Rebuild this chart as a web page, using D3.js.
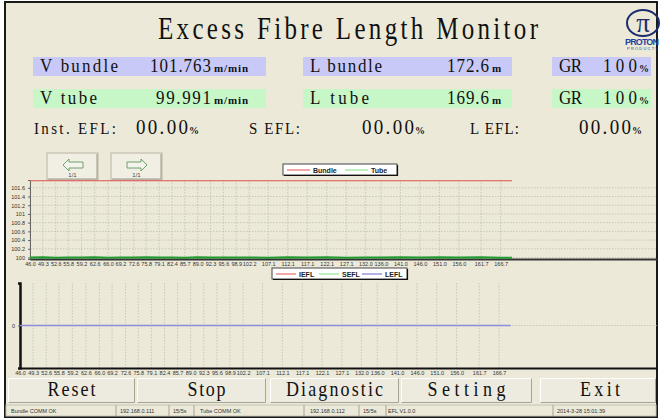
<!DOCTYPE html>
<html><head><meta charset="utf-8">
<script src="https://cdn.jsdelivr.net/npm/d3@7"></script>
<style>html,body{margin:0;padding:0;background:#fff;overflow:hidden}svg{display:block}</style>
</head><body>
<script>
// ---------- data ----------
const titleText = "Excess Fibre Length Monitor";
const speedLabels = ["V bundle", "V tube"];
const speedValues = ["101.763", "99.991"];
const lengthLabels = ["L bundle", "L tube"];
const lengthValues = ["172.6", "169.6"];
const grValues = ["100", "100"];
const eflLabels = ["Inst. EFL:", "S EFL:", "L EFL:"];
const eflValues = ["00.00", "00.00", "00.00"];
const buttonLabels = ["Reset", "Stop", "Diagnostic", "Setting", "Exit"];
const statusTexts = ["Bundle COMM OK", "192.168.0.111", "15/5s", "Tube COMM OK", "192.168.0.112", "15/5s", "EFL V1.0.0", "2014-3-28 15:01:39"];

const xTickValues = [46.0, 49.3, 52.6, 55.8, 59.2, 62.6, 66.0, 69.2, 72.6, 75.8, 79.1, 82.4, 85.7, 89.0, 92.3, 95.6, 98.9, 102.2, 107.1, 112.1, 117.1, 122.1, 127.1, 132.0, 136.0, 141.0, 146.0, 151.0, 156.0, 161.7, 166.7];
const speedTicks = [100, 100.2, 100.4, 100.6, 100.8, 101, 101.2, 101.4, 101.6];
const eflTicks = [0];

const lengthSamples = [46.0, 49.3, 52.6, 55.8, 59.2, 62.6, 66.0, 69.2, 72.6, 75.8, 79.1, 82.4, 85.7, 89.0, 92.3, 95.6, 98.9, 102.2, 107.1, 112.1, 117.1, 122.1, 127.1, 132.0, 136.0, 141.0, 146.0, 151.0, 156.0, 161.7, 166.7, 169.6];
const bundleSpeed = [101.763, 101.763, 101.763, 101.763, 101.763, 101.763, 101.763, 101.763, 101.763, 101.763, 101.763, 101.763, 101.763, 101.763, 101.763, 101.763, 101.763, 101.763, 101.763, 101.763, 101.763, 101.763, 101.763, 101.763, 101.763, 101.763, 101.763, 101.763, 101.763, 101.763, 101.763, 101.763];
const tubeSpeed = [99.998, 100.004, 99.996, 100.002, 99.999, 100.006, 99.995, 100.001, 99.997, 100.003, 99.998, 100.000, 99.996, 100.004, 99.999, 100.002, 99.997, 100.001, 99.995, 100.003, 99.998, 100.005, 99.996, 100.002, 99.999, 100.004, 99.997, 100.006, 99.998, 100.003, 99.996, 99.991];
const instEFL = [0, 0, 0, 0, 0, 0, 0, 0, 0, 0, 0, 0, 0, 0, 0, 0, 0, 0, 0, 0, 0, 0, 0, 0, 0, 0, 0, 0, 0, 0, 0, 0];
const shortEFL = [0, 0, 0, 0, 0, 0, 0, 0, 0, 0, 0, 0, 0, 0, 0, 0, 0, 0, 0, 0, 0, 0, 0, 0, 0, 0, 0, 0, 0, 0, 0, 0];
const longEFL = [0, 0, 0, 0, 0, 0, 0, 0, 0, 0, 0, 0, 0, 0, 0, 0, 0, 0, 0, 0, 0, 0, 0, 0, 0, 0, 0, 0, 0, 0, 0, 0];

// ---------- drawing ----------
const W = 662, H = 419;
const BG = "#ECE9D8";
const SERIF = "'Liberation Serif', 'DejaVu Serif', serif";
const SANS = "'Liberation Sans', Arial, sans-serif";

const svg = d3.select("body").append("svg").attr("width", W).attr("height", H);
svg.append("rect").attr("width", W).attr("height", H).attr("fill", "#fff");
svg.append("rect").attr("x", 5).attr("y", 2).attr("width", 652).attr("height", 415)
  .attr("fill", BG).attr("stroke", "#1a1a1a").attr("stroke-width", 2);

function tx(g, x, y, s, o) {
  o = o || {};
  const t = g.append("text")
    .attr("transform", `translate(${x},${y}) scale(1,${o.sy || 1})`)
    .attr("font-family", o.ff || SERIF).attr("font-size", o.fs || 16)
    .attr("fill", o.fill || "#111").attr("text-anchor", o.anchor || "start")
    .text(s);
  if (o.fw) t.attr("font-weight", o.fw);
  if (o.ls) t.attr("letter-spacing", o.ls);
  if (o.len) t.attr("textLength", o.len).attr("lengthAdjust", "spacing");
  return t;
}

// title
tx(svg, 158, 39, titleText, {fs: 25, sy: 1.25, len: 380});

// logo
const logo = svg.append("g");
logo.append("ellipse").attr("cx", 643).attr("cy", 23).attr("rx", 16).attr("ry", 13)
  .attr("fill", "none").attr("stroke", "#1b2d6b").attr("stroke-width", 2);
tx(logo, 643, 32, "π", {fs: 27, fill: "#1b2d6b", anchor: "middle"});
tx(logo, 625, 45, "PROTON", {ff: SANS, fs: 9, fw: "bold", fill: "#1f3f9f", len: 34});
tx(logo, 627, 50, "PRODUCTS", {ff: SANS, fs: 4, fill: "#1f3f9f", len: 31});

// reading rows
const rowY = [57, 89];
const rowFill = ["#C9C9F7", "#C7F7C7"];
const labLen = [[78, 57], [72, 59]];
const valLen = [[61, 55], [42, 42]];
rowY.forEach((y, i) => {
  const g = svg.append("g");
  g.append("rect").attr("x", 33).attr("y", y).attr("width", 233).attr("height", 19).attr("fill", rowFill[i]);
  g.append("rect").attr("x", 303).attr("y", y).attr("width", 209).attr("height", 19).attr("fill", rowFill[i]);
  g.append("rect").attr("x", 552).attr("y", y).attr("width", 99).attr("height", 19).attr("fill", rowFill[i]);
  const b = y + 15;
  tx(g, 40, b, speedLabels[i], {fs: 17, sy: 1.15, len: labLen[0][i]});
  tx(g, 211, b, speedValues[i], {fs: 17, sy: 1.15, anchor: "end", len: valLen[0][i]});
  tx(g, 214, b, "m/min", {fs: 11, fw: "bold", len: 34});
  tx(g, 310, b, lengthLabels[i], {fs: 17, sy: 1.15, len: labLen[1][i]});
  tx(g, 489, b, lengthValues[i], {fs: 17, sy: 1.15, anchor: "end", len: valLen[1][i]});
  tx(g, 492, b, "m", {fs: 11, fw: "bold"});
  tx(g, 559, b, "GR", {fs: 17, sy: 1.15, len: 23});
  tx(g, 637, b, grValues[i], {fs: 17, sy: 1.15, anchor: "end", len: 34});
  tx(g, 639, b, "%", {fs: 10, fw: "bold"});
});

// EFL row
const eflLabX = [34, 249, 470];
const eflLabLen = [82, 51, 49];
const eflValX = [188, 414, 631];
eflLabels.forEach((l, i) => {
  tx(svg, eflLabX[i], 134, l, {fs: 15, sy: 1.15, len: eflLabLen[i]});
  tx(svg, eflValX[i], 134, eflValues[i], {fs: 19, sy: 1.15, anchor: "end", len: 52});
  tx(svg, eflValX[i] + 1, 134, "%", {fs: 10, fw: "bold"});
});

// arrow buttons
function smallButton(x, dir) {
  const g = svg.append("g").attr("transform", `translate(${x},153)`);
  g.append("rect").attr("width", 51).attr("height", 27).attr("fill", "#F1EFE4").attr("stroke", "#B9B5A6");
  g.append("path").attr("d", "M1,26 H50 V1").attr("fill", "none").attr("stroke", "#9A968A");
  const s = dir < 0 ? "M16,12 L22,6 V9 H36 V15 H22 V18 Z" : "M36,12 L30,6 V9 H16 V15 H30 V18 Z";
  g.append("path").attr("d", s).attr("fill", "#F4F4EC").attr("stroke", "#5e9a5e").attr("stroke-width", 0.9);
  tx(g, 25.5, 24, "1/1", {ff: SANS, fs: 6, fill: "#444", anchor: "middle"});
}
smallButton(47, -1);
smallButton(111, 1);

// ---------- chart 1 : speeds ----------
const x1 = d3.scaleLinear().domain([46, 206.8]).range([30, 657]);
const y1 = d3.scaleLinear().domain([99.965, 101.78]).range([259, 180]);
const c1 = svg.append("g");
c1.append("g").selectAll("line").data(speedTicks).join("line")
  .attr("x1", 30).attr("x2", 657).attr("y1", d => y1(d)).attr("y2", d => y1(d))
  .attr("stroke", "#b8b8b0").attr("stroke-width", 0.7).attr("stroke-dasharray", "1.5,1.5");
c1.append("g").selectAll("line").data(xTickValues).join("line")
  .attr("x1", d => x1(d)).attr("x2", d => x1(d)).attr("y1", 180).attr("y2", 259)
  .attr("stroke", "#b8b8b0").attr("stroke-width", 0.7).attr("stroke-dasharray", "1.5,1.5");
const ax1 = c1.append("g").attr("transform", "translate(30,0)")
  .call(d3.axisLeft(y1).tickValues(speedTicks).tickSize(2).tickFormat(d => String(d)));
ax1.select(".domain").attr("stroke", "#666");
ax1.selectAll("text").attr("font-family", SANS).attr("font-size", 5.5).attr("fill", "#333");
ax1.selectAll(".tick line").attr("stroke", "#666");
const bx1 = c1.append("g").attr("transform", "translate(0,259)")
  .call(d3.axisBottom(x1).tickValues(xTickValues).tickSize(0).tickPadding(3).tickFormat(d => d.toFixed(1)));
bx1.select(".domain").attr("stroke", "#333").attr("stroke-width", 2);
bx1.selectAll("text").attr("font-family", SANS).attr("font-size", 5.5).attr("fill", "#333");
const pts = lengthSamples.map((l, i) => i);
const lineB = d3.line().x(i => x1(lengthSamples[i])).y(i => y1(bundleSpeed[i]));
const lineT = d3.line().x(i => x1(lengthSamples[i])).y(i => y1(tubeSpeed[i]));
c1.append("path").attr("d", lineB(pts)).attr("fill", "none").attr("stroke", "#E05050").attr("stroke-width", 1.2);
c1.append("path").attr("d", lineT(pts)).attr("fill", "none").attr("stroke", "#1f9a2f").attr("stroke-width", 2);

function legend(x, y, w, items) {
  const g = svg.append("g").attr("transform", `translate(${x},${y})`);
  g.append("rect").attr("width", w).attr("height", 11).attr("fill", "#fff").attr("stroke", "#444");
  g.append("path").attr("d", `M1,11.5 H${w + 0.5} V1`).attr("fill", "none").attr("stroke", "#111").attr("stroke-width", 1.2);
  let cx = 4;
  items.forEach(it => {
    g.append("line").attr("x1", cx).attr("x2", cx + it.lw).attr("y1", 6).attr("y2", 6).attr("stroke", it.c).attr("stroke-width", 1);
    tx(g, cx + it.lw + 3, 8.5, it.t, {ff: SANS, fs: 7, fw: "bold", fill: "#222"});
    cx += it.step;
  });
}
legend(283, 164, 114, [{t: "Bundle", c: "#E05050", lw: 23, step: 58}, {t: "Tube", c: "#7EE07E", lw: 23, step: 50}]);

// ---------- chart 2 : EFL ----------
const x2 = d3.scaleLinear().domain([46, 206.5]).range([20, 657]);
const y2 = d3.scaleLinear().domain([-1, 1]).range([368, 283]);
const c2 = svg.append("g");
c2.append("g").selectAll("line").data(xTickValues.slice(1)).join("line")
  .attr("x1", d => x2(d)).attr("x2", d => x2(d)).attr("y1", 283).attr("y2", 368)
  .attr("stroke", "#b8b8b0").attr("stroke-width", 0.7).attr("stroke-dasharray", "1.5,1.5");
c2.append("g").selectAll("line").data(eflTicks).join("line")
  .attr("x1", 20).attr("x2", 657).attr("y1", d => y2(d)).attr("y2", d => y2(d))
  .attr("stroke", "#b8b8b0").attr("stroke-width", 0.7).attr("stroke-dasharray", "1.5,1.5");
const ax2 = c2.append("g").attr("transform", "translate(20,0)")
  .call(d3.axisLeft(y2).tickValues(eflTicks).tickSize(2).tickFormat(d => String(d)));
ax2.select(".domain").attr("stroke", "#111").attr("stroke-width", 2.5);
ax2.selectAll("text").attr("font-family", SANS).attr("font-size", 5.5).attr("fill", "#333");
ax2.selectAll(".tick line").attr("stroke", "#666");
const bx2 = c2.append("g").attr("transform", "translate(0,368)")
  .call(d3.axisBottom(x2).tickValues(xTickValues).tickSize(0).tickPadding(3).tickFormat(d => d.toFixed(1)));
bx2.select(".domain").attr("stroke", "#111").attr("stroke-width", 2);
bx2.selectAll("text").attr("font-family", SANS).attr("font-size", 5.5).attr("fill", "#333");
const mk = arr => d3.line().x(i => x2(lengthSamples[i])).y(i => y2(arr[i]));
c2.append("path").attr("d", mk(instEFL)(pts)).attr("fill", "none").attr("stroke", "#E05050").attr("stroke-width", 1.2);
c2.append("path").attr("d", mk(shortEFL)(pts)).attr("fill", "none").attr("stroke", "#7EE07E").attr("stroke-width", 1.2);
c2.append("path").attr("d", mk(longEFL)(pts)).attr("fill", "none").attr("stroke", "#8C8CDC").attr("stroke-width", 1.6);

legend(272, 268, 135, [{t: "IEFL", c: "#E05050", lw: 20, step: 43}, {t: "SEFL", c: "#7EE07E", lw: 20, step: 43}, {t: "LEFL", c: "#6464C8", lw: 20, step: 43}]);

// ---------- bottom buttons ----------
const btnX = [8, 137, 270, 401, 540];
const btnW = [127, 129, 129, 131, 116];
const btnTextLen = [48, 38, 97, 78, 40];
buttonLabels.forEach((l, i) => {
  const g = svg.append("g").attr("transform", `translate(${btnX[i]},378)`);
  g.append("rect").attr("width", btnW[i]).attr("height", 25).attr("fill", "#EDEAE0");
  g.append("path").attr("d", `M0.5,24.5 V0.5 H${btnW[i] - 0.5}`).attr("fill", "none").attr("stroke", "#fff");
  g.append("path").attr("d", `M0.5,24.5 H${btnW[i] - 0.5} V0.5`).attr("fill", "none").attr("stroke", "#A7A395");
  const cx = i === 4 ? 60 : btnW[i] / 2 + (i === 1 ? 5 : 0);
  tx(g, cx, 18, l, {fs: 18, sy: 1.15, anchor: "middle", len: btnTextLen[i]});
});

// ---------- status bar ----------
const stX = [11, 120, 173, 200, 310, 363, 388, 557];
const sepX = [116, 169, 194, 304, 359, 386, 553];
const sb = svg.append("g");
sb.append("rect").attr("x", 6).attr("y", 405).attr("width", 650).attr("height", 11).attr("fill", BG).attr("stroke", "#c8c4b4");
sb.selectAll("line").data(sepX).join("line").attr("x1", d => d).attr("x2", d => d).attr("y1", 405).attr("y2", 416).attr("stroke", "#a8a496");
statusTexts.forEach((s, i) => tx(sb, stX[i], 413, s, {ff: SANS, fs: 5.5, fill: "#333"}));
</script>
</body></html>
